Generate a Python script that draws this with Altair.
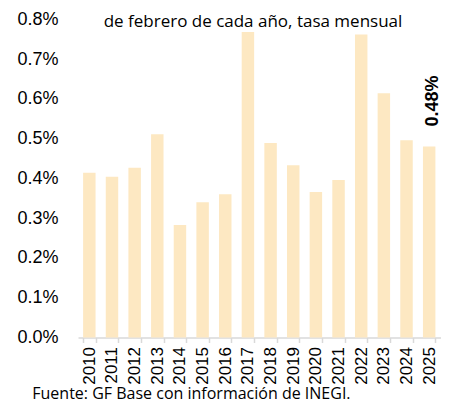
import altair as alt
import pandas as pd

# ---- data ----
years = ["2010", "2011", "2012", "2013", "2014", "2015", "2016", "2017",
         "2018", "2019", "2020", "2021", "2022", "2023", "2024", "2025"]
values = [0.414, 0.404, 0.427, 0.511, 0.283, 0.340, 0.360, 0.768,
          0.489, 0.433, 0.366, 0.396, 0.762, 0.614, 0.496, 0.480]
y_ticks = [0.0, 0.1, 0.2, 0.3, 0.4, 0.5, 0.6, 0.7, 0.8]
highlight_year = "2025"
title_text = "de febrero de cada año, tasa mensual"
source_text = "Fuente: GF Base con información de INEGI."

df = pd.DataFrame({"year": years, "value": values})

PL, PT = 70, 11.3
W, H = 362.5, 318.2
SVG_W, SVG_H = 434, 395
PB = SVG_H - PT - H
PR = SVG_W - PL - W

x_enc = alt.X(
    "year:N", sort=years,
    scale=alt.Scale(paddingInner=0.45, paddingOuter=0.225),
    axis=alt.Axis(
        title=None, labelAngle=270, labelAlign="right", labelBaseline="middle",
        labelFont="Liberation Sans", labelFontSize=17, labelColor="#000000",
        labelPadding=4, tickBand="extent", tickSize=5, tickColor="#d9d9d9",
        tickWidth=1.5, domainColor="#d9d9d9", domainWidth=1.5, grid=False,
        labelOverlap=False,
    ),
)
y_enc = alt.Y(
    "value:Q",
    scale=alt.Scale(domain=[0, 0.8], nice=False, zero=True),
    axis=alt.Axis(
        values=y_ticks, labelExpr="format(datum.value, '.1f') + '%'",
        domain=False, ticks=False, grid=False, title=None,
        labelPadding=20, labelFont="Liberation Sans", labelFontSize=18,
        labelColor="#000000", labelOverlap=False,
    ),
)

base = alt.Chart(df)

bars = base.mark_bar(color="#FDE8C2").encode(x=x_enc, y=y_enc)

label = base.transform_filter(
    alt.datum.year == highlight_year
).transform_calculate(
    label="format(datum.value, '.2f') + '%'"
).mark_text(
    angle=270, align="left", baseline="middle", dx=20, dy=3.5,
    font="Liberation Sans", fontSize=18, fontWeight="bold", color="#000000",
).encode(x=x_enc, y=y_enc, text="label:N")

title = alt.Chart(pd.DataFrame({"t": [title_text]})).mark_text(
    align="center", baseline="alphabetic", font="Open Sans", fontSize=17,
    color="#000000",
).encode(x=alt.value(175), y=alt.value(27 - 8 - PT), text="t:N")

source = alt.Chart(pd.DataFrame({"t": [source_text]})).mark_text(
    align="left", baseline="alphabetic", font="Open Sans", fontSize=16,
    color="#000000",
).encode(x=alt.value(-45.7), y=alt.value(SVG_H - PT - 4), text="t:N")

chart = alt.layer(bars, label, title, source).properties(
    width=W, height=H,
    padding={"left": PL, "top": PT, "right": PR, "bottom": PB},
    autosize=alt.AutoSizeParams(type="none"),
).configure_view(stroke=None)

chart.save("out.html", embed_options={"renderer": "svg", "actions": False})
